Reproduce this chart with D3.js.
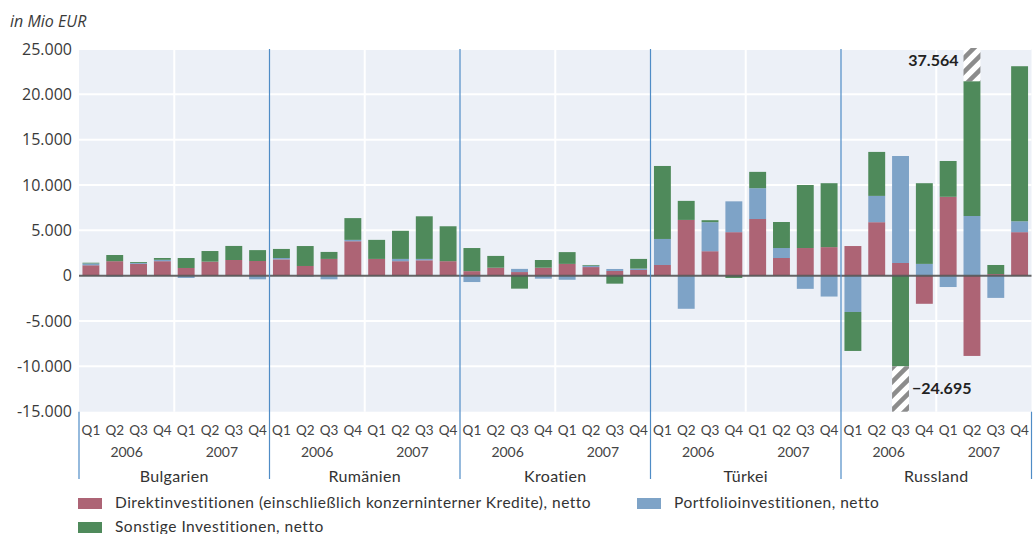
<!DOCTYPE html>
<meta charset="utf-8">
<style>
    body { margin: 0; background: #fff; }
    text { font-family: Lato, "Open Sans", sans-serif; fill: #3a3a3a; }
    .ytick text { font-family: "Open Sans", sans-serif; font-size: 16px; }
</style>
<body>
<script src="https://cdn.jsdelivr.net/npm/d3@7/dist/d3.min.js"></script>
<script>
// values in Mio EUR, 8 quarters per country (2006 Q1 .. 2007 Q4)
var countries = ["Bulgarien", "Rumänien", "Kroatien", "Türkei", "Russland"];
var years = ["2006", "2007"];
var quarters = ["Q1", "Q2", "Q3", "Q4"];

var direkt = [
    1150, 1600, 1300, 1600, 850, 1550, 1730, 1620,
    1800, 1070, 1850, 3800, 1850, 1600, 1700, 1600,
    500, 880, 400, 880, 1300, 950, 520, 630,
    1180, 6150, 2700, 4800, 6250, 1950, 3050, 3150,
    3270, 5900, 1400, -3100, 8700, -8850, 180, 4800
];
var portfolio = [
    200, -100, 100, 150, -250, 0, 0, -400,
    150, -100, -400, 150, 0, 250, 150, 0,
    -700, 0, 350, -330, -450, 150, 220, 150,
    2870, -3650, 3200, 3400, 3400, 1100, -1450, -2300,
    -4000, 2900, 11800, 1300, -1250, 6580, -2450, 1200
];
var sonstige = [
    80, 680, 100, 200, 1100, 1170, 1550, 1200,
    1000, 2200, 770, 2400, 2100, 3100, 4700, 3850,
    2550, 1300, -1430, 850, 1300, 80, -880, 1070,
    8050, 2100, 220, -250, 1800, 2870, 6950, 7050,
    -4300, 4850, -24695, 8900, 3950, 30984, 1000, 17100
];

var seriesNames = [
    "Direktinvestitionen (einschließlich konzerninterner Kredite), netto",
    "Portfolioinvestitionen, netto",
    "Sonstige Investitionen, netto"
];
var colors = ["#ad6475", "#7ea3c7", "#4f8a5b"];
var yTicks = [25000, 20000, 15000, 10000, 5000, 0, -5000, -10000, -15000];

var width = 1033, height = 534;
var plot = { left: 79, right: 1031.5, top: 49, bottom: 411.7 };
var yMin = -15000, yMax = 25000;
var cutTop = 21450, cutBottom = -10000; // where bars running off the scale are cut

var de = d3.formatLocale({ decimal: ",", thousands: ".", grouping: [3], currency: ["", ""], minus: "-" });
var deLabel = d3.formatLocale({ decimal: ",", thousands: ".", grouping: [3], currency: ["", ""], minus: "\u2212" });
var fmt = de.format(",d"), fmtLabel = deLabel.format(",d");

var keys = ["d", "p", "s"];
var rows = direkt.map(function (v, i) { return { i: i, d: v, p: portfolio[i], s: sonstige[i] }; });
var stacked = d3.stack().keys(keys).offset(d3.stackOffsetDiverging)(rows);

var x = d3.scaleBand().domain(d3.range(rows.length))
    .range([plot.left, plot.right]).paddingInner(0.29).paddingOuter(0.145);
var xCountry = d3.scaleBand().domain(countries).range([plot.left, plot.right]);
var y = d3.scaleLinear().domain([yMin, yMax]).range([plot.bottom, plot.top]);

var svg = d3.select("body").append("svg")
    .attr("width", width).attr("height", height);

var defs = svg.append("defs");
defs.append("pattern")
    .attr("id", "hatch")
    .attr("patternUnits", "userSpaceOnUse")
    .attr("width", 14).attr("height", 14)
    .call(function (p) {
        p.append("rect").attr("width", 14).attr("height", 14).attr("fill", "#fff");
        p.append("path")
            .attr("d", "M-3.5,3.5 l7,-7 M0,14 l14,-14 M10.5,17.5 l7,-7")
            .attr("stroke", "#8c8c8c").attr("stroke-width", 4.5);
    });

// background
svg.append("rect")
    .attr("x", plot.left).attr("y", plot.top)
    .attr("width", plot.right - plot.left).attr("height", plot.bottom - plot.top)
    .attr("fill", "#ecf0f7");

// horizontal grid
svg.append("g").selectAll("line")
    .data(yTicks.filter(function (t) { return t !== 0 && t !== yMin; }))
    .join("line")
    .attr("x1", plot.left).attr("x2", plot.right)
    .attr("y1", function (d) { return y(d); }).attr("y2", function (d) { return y(d); })
    .attr("stroke", "#fff").attr("stroke-width", 2);

// vertical grid between years
svg.append("g").selectAll("line")
    .data(countries)
    .join("line")
    .attr("x1", function (d) { return xCountry(d) + xCountry.bandwidth() / 2; })
    .attr("x2", function (d) { return xCountry(d) + xCountry.bandwidth() / 2; })
    .attr("y1", plot.top).attr("y2", plot.bottom)
    .attr("stroke", "#fff").attr("stroke-width", 2);

// y tick labels
svg.append("g").attr("class", "ytick").selectAll("text")
    .data(yTicks)
    .join("text")
    .attr("x", 72).attr("y", function (d) { return y(d); })
    .attr("dy", "0.36em")
    .attr("text-anchor", "end")
    .text(function (d) { return fmt(d); });

svg.append("text")
    .attr("x", 10).attr("y", 27)
    .style("font-family", "'Open Sans', sans-serif")
    .style("font-style", "italic").style("font-size", "16px")
    .text("in Mio EUR");

// which bars run off the scale
var broken = [];
rows.forEach(function (r) {
    var pos = d3.sum(keys, function (k) { return Math.max(0, r[k]); });
    var neg = d3.sum(keys, function (k) { return Math.min(0, r[k]); });
    if (pos > yMax) broken.push({ i: r.i, v: pos, up: true });
    if (neg < yMin) broken.push({ i: r.i, v: neg, up: false });
});
var isBroken = function (i, up) {
    return broken.some(function (b) { return b.i === i && b.up === up; });
};
function clampV(v, i) {
    if (v > 0 && isBroken(i, true)) return Math.min(v, cutTop);
    if (v < 0 && isBroken(i, false)) return Math.max(v, cutBottom);
    return v;
}

// bars
var layer = svg.append("g").selectAll("g")
    .data(stacked)
    .join("g")
    .attr("fill", function (d, i) { return colors[i]; });

layer.selectAll("rect")
    .data(function (d) { return d; })
    .join("rect")
    .attr("x", function (d) { return x(d.data.i); })
    .attr("width", x.bandwidth())
    .attr("y", function (d) { return y(clampV(Math.max(d[0], d[1]), d.data.i)); })
    .attr("height", function (d) {
        return Math.abs(y(clampV(d[0], d.data.i)) - y(clampV(d[1], d.data.i)));
    });

// hatch from the cut to the plot edge, with the real total
svg.append("g").selectAll("rect")
    .data(broken)
    .join("rect")
    .attr("x", function (d) { return x(d.i); })
    .attr("width", x.bandwidth())
    .attr("y", function (d) { return d.up ? plot.top - 1 : y(cutBottom); })
    .attr("height", function (d) {
        return d.up ? y(cutTop) - plot.top + 1 : plot.bottom - y(cutBottom);
    })
    .attr("fill", "url(#hatch)");

svg.append("g").selectAll("text")
    .data(broken)
    .join("text")
    .attr("x", function (d) { return d.up ? x(d.i) - 5 : x(d.i) + x.bandwidth() + 3; })
    .attr("y", function (d) { return d.up ? plot.top + 17 : plot.bottom - 18; })
    .attr("text-anchor", function (d) { return d.up ? "end" : "start"; })
    .style("font-size", "16px").style("font-weight", 700).style("fill", "#222")
    .text(function (d) { return fmtLabel(Math.round(d.v)); });

// zero line
svg.append("line")
    .attr("x1", plot.left).attr("x2", plot.right)
    .attr("y1", y(0)).attr("y2", y(0))
    .attr("stroke", "#555").attr("stroke-width", 2).attr("stroke-opacity", 0.9);

// country separators
var bounds = countries.map(function (c) { return xCountry(c); }).concat([plot.right]);
svg.append("g").selectAll("line")
    .data(bounds)
    .join("line")
    .attr("x1", function (d) { return d; }).attr("x2", function (d) { return d; })
    .attr("y1", function (d, i) { return (i === 0 || i === bounds.length - 1) ? plot.bottom : plot.top; })
    .attr("y2", 479)
    .attr("stroke", "#4f8cc6").attr("stroke-width", 1.2);

// quarter labels
svg.append("g").selectAll("text")
    .data(rows)
    .join("text")
    .attr("x", function (d) { return x(d.i) + x.bandwidth() / 2; })
    .attr("y", 435)
    .attr("text-anchor", "middle")
    .style("font-size", "13.5px").style("fill", "#444")
    .text(function (d) { return quarters[d.i % 4]; });

// year labels
var yearCells = [];
countries.forEach(function (c) {
    years.forEach(function (yr, j) { yearCells.push({ c: c, yr: yr, j: j }); });
});
svg.append("g").selectAll("text")
    .data(yearCells)
    .join("text")
    .attr("x", function (d) { return xCountry(d.c) + xCountry.bandwidth() * (d.j + 0.5) / 2; })
    .attr("y", 457)
    .attr("text-anchor", "middle")
    .style("font-size", "14px").style("fill", "#444")
    .text(function (d) { return d.yr; });

// country labels
svg.append("g").selectAll("text")
    .data(countries)
    .join("text")
    .attr("x", function (d) { return xCountry(d) + xCountry.bandwidth() / 2; })
    .attr("y", 482)
    .attr("text-anchor", "middle")
    .style("font-size", "16px").style("fill", "#333")
    .style("letter-spacing", "0.3px")
    .text(function (d) { return d; });

// legend
var legendPos = [[78, 503], [637, 503], [78, 527]];
var legend = svg.append("g").selectAll("g")
    .data(seriesNames)
    .join("g")
    .attr("transform", function (d, i) { return "translate(" + legendPos[i][0] + "," + legendPos[i][1] + ")"; });
legend.append("rect")
    .attr("y", -5).attr("width", 24).attr("height", 11)
    .attr("fill", function (d, i) { return colors[i]; });
legend.append("text")
    .attr("x", 37).attr("dy", "0.35em")
    .style("font-size", "15.5px").style("fill", "#333")
    .style("letter-spacing", "0.5px")
    .text(function (d) { return d; });
</script>
</body>
